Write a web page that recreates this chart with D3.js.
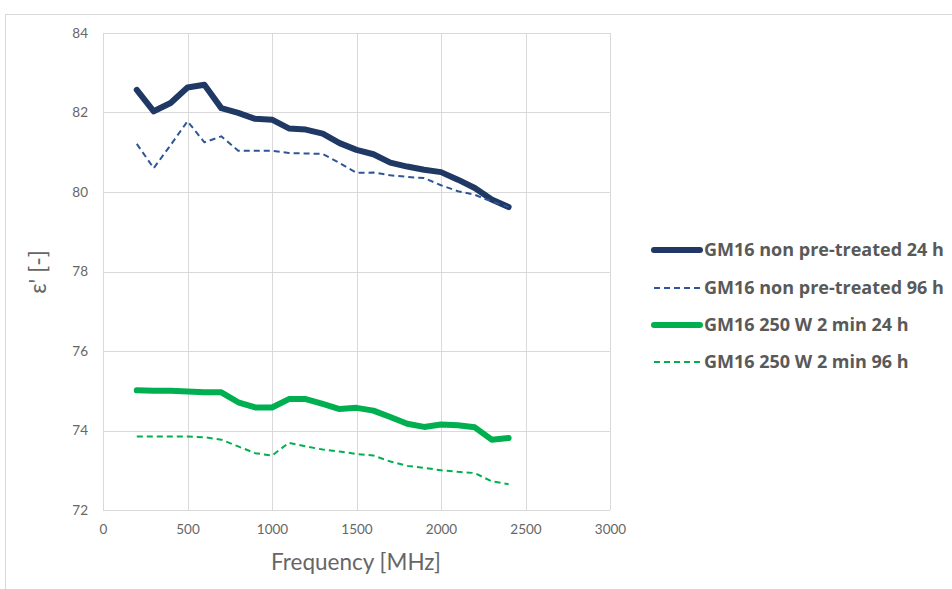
<!DOCTYPE html>
<html><head><meta charset="utf-8">
<script src="https://cdn.jsdelivr.net/npm/d3@7"></script>
<style>body{margin:0;background:#fff;} svg{display:block;}</style>
</head><body>
<svg id="c" width="952" height="589"></svg>
<script>
const freq = [200,300,400,500,600,700,800,900,1000,1100,1200,1300,1400,1500,1600,1700,1800,1900,2000,2100,2200,2300,2400];
const nonPre24 = [82.57,82.03,82.24,82.63,82.70,82.11,81.99,81.84,81.82,81.60,81.57,81.47,81.23,81.06,80.95,80.74,80.64,80.56,80.50,80.31,80.10,79.81,79.62];
const nonPre96 = [81.21,80.60,81.18,81.78,81.25,81.40,81.04,81.04,81.04,80.98,80.97,80.96,80.73,80.48,80.49,80.42,80.38,80.35,80.17,80.02,79.93,79.76,79.62];
const w250_24 = [75.01,75.00,75.00,74.98,74.96,74.96,74.71,74.58,74.58,74.79,74.79,74.67,74.54,74.57,74.50,74.34,74.17,74.09,74.15,74.13,74.08,73.77,73.81];
const w250_96 = [73.85,73.85,73.85,73.85,73.83,73.77,73.60,73.43,73.37,73.69,73.60,73.52,73.47,73.41,73.37,73.22,73.11,73.06,73.00,72.96,72.93,72.72,72.65];
const seriesNames = ["GM16 non pre-treated 24 h","GM16 non pre-treated 96 h","GM16 250 W 2 min 24 h","GM16 250 W 2 min 96 h"];
const xTicks = [0,500,1000,1500,2000,2500,3000];
const yTicks = [72,74,76,78,80,82,84];

const svg = d3.select("#c");
svg.append("rect").attr("x",5.5).attr("y",14.5).attr("width",1000).attr("height",1000)
  .attr("fill","none").attr("stroke","#d9d9d9");

const x = d3.scaleLinear().domain([0,3000]).range([103,610]);
const y = d3.scaleLinear().domain([72,84]).range([510,33]);

const g = svg.append("g");
g.selectAll(".vg").data(xTicks).join("line")
  .attr("x1",d=>Math.round(x(d))+0.5).attr("x2",d=>Math.round(x(d))+0.5)
  .attr("y1",y(84)).attr("y2",y(72)).attr("stroke","#d9d9d9").attr("stroke-width",1);
g.selectAll(".hg").data(yTicks).join("line")
  .attr("x1",x(0)).attr("x2",x(3000))
  .attr("y1",d=>Math.round(y(d))+0.5).attr("y2",d=>Math.round(y(d))+0.5)
  .attr("stroke","#d9d9d9").attr("stroke-width",1);

const xAxis = svg.append("g").attr("transform",`translate(0,${y(72)})`)
  .call(d3.axisBottom(x).tickValues(xTicks).tickFormat(d3.format("d")).tickSize(0).tickPadding(14));
xAxis.select(".domain").remove();
xAxis.selectAll("text").attr("font-family","Lato, 'Open Sans', sans-serif").attr("font-size",13.5).attr("fill","#666");

const yAxis = svg.append("g").attr("transform",`translate(${x(0)},0)`)
  .call(d3.axisLeft(y).tickValues(yTicks).tickFormat(d3.format("d")).tickSize(0).tickPadding(15));
yAxis.select(".domain").remove();
yAxis.selectAll("text").attr("font-family","Lato, 'Open Sans', sans-serif").attr("font-size",13.5).attr("fill","#666");

svg.append("text").attr("x",356).attr("y",570).attr("text-anchor","middle")
  .attr("font-family","Lato, 'Open Sans', sans-serif").attr("font-size",22.5).attr("fill","#666")
  .text("Frequency [MHz]");
svg.append("text").attr("transform","translate(46,272) rotate(-90)").attr("text-anchor","middle")
  .attr("font-family","Lato, 'Open Sans', sans-serif").attr("font-size",23).attr("fill","#666")
  .text("ε' [-]");

const styles = [
  {data:nonPre24, color:"#203864", width:6, dash:null},
  {data:nonPre96, color:"#2F5597", width:2, dash:"6,4"},
  {data:w250_24, color:"#00B050", width:6, dash:null},
  {data:w250_96, color:"#00B050", width:2, dash:"6,4"}
];
const line = d3.line().x((d,i)=>x(freq[i])).y(d=>y(d));
styles.forEach(s=>{
  svg.append("path").datum(s.data).attr("d",line).attr("fill","none")
    .attr("stroke",s.color).attr("stroke-width",s.width)
    .attr("stroke-linejoin","round").attr("stroke-linecap",s.dash?"butt":"round")
    .attr("stroke-dasharray",s.dash);
});

const legY = [250,288,325,362];
styles.forEach((s,i)=>{
  svg.append("line").attr("x1",654).attr("x2",700).attr("y1",legY[i]).attr("y2",legY[i])
    .attr("stroke",s.color).attr("stroke-width",s.width)
    .attr("stroke-linecap",s.dash?"butt":"round").attr("stroke-dasharray",s.dash);
  svg.append("text").attr("x",704).attr("y",legY[i]).attr("dy","0.35em")
    .attr("font-family","'Open Sans', sans-serif").attr("font-weight","bold")
    .attr("font-size",18).attr("fill","#595959").text(seriesNames[i]);
});
</script>
</body></html>
